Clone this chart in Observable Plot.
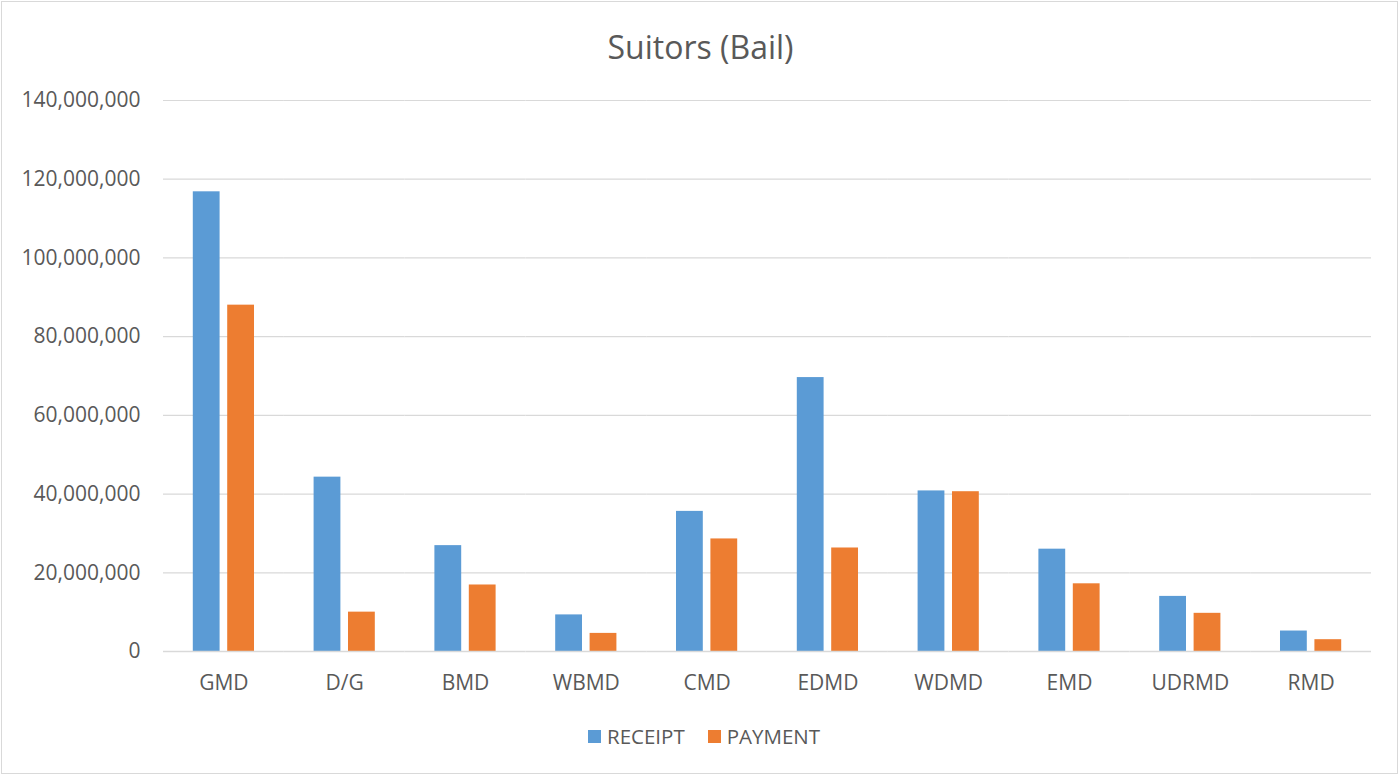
<!DOCTYPE html>
<html>
<head>
<meta charset="utf-8">
<script src="https://cdn.jsdelivr.net/npm/d3@7"></script>
<script src="https://cdn.jsdelivr.net/npm/@observablehq/plot@0.6"></script>
<style>
  html, body { margin: 0; padding: 0; background: #fff; }
  #wrap { position: relative; width: 1399px; height: 775px; font-family: "Open Sans", sans-serif; color: #595959; overflow: hidden; }
  #frame { position: absolute; left: 1px; top: 1px; width: 1397px; height: 773px; box-sizing: border-box; border: 1px solid #d9d9d9; pointer-events: none; }
  #title { position: absolute; left: 0; width: 1401px; top: 25px; text-align: center; font-size: 32px; line-height: 44px; color: #595959; }
  #chart { position: absolute; left: 0; top: 0; }
  #legend { position: absolute; left: 588px; top: 722px; height: 28px; display: flex; align-items: center; font-size: 20.5px; color: #595959; }
  #legend .sw { width: 13px; height: 13px; display: inline-block; margin-right: 6px; }
  #legend .item { display: flex; align-items: center; margin-right: 23px; }
</style>
</head>
<body>
<div id="wrap">
  <div id="title">Suitors (Bail)</div>
  <div id="chart"></div>
  <div id="legend"></div>
  <div id="frame"></div>
</div>
<script>
const categories = ["GMD", "D/G", "BMD", "WBMD", "CMD", "EDMD", "WDMD", "EMD", "UDRMD", "RMD"];
const series = ["RECEIPT", "PAYMENT"];
const receipt = [116.8e6, 44.3e6, 26.9e6, 9.3e6, 35.6e6, 69.6e6, 40.8e6, 26.0e6, 14.0e6, 5.2e6];
const payment = [88.0e6, 10.0e6, 16.9e6, 4.6e6, 28.6e6, 26.3e6, 40.6e6, 17.2e6, 9.7e6, 3.0e6];
const yTicks = [0, 20e6, 40e6, 60e6, 80e6, 100e6, 120e6, 140e6];
const colors = ["#5b9bd5", "#ed7d31"];

const data = [];
categories.forEach((c, i) => {
  data.push({cat: c, series: "RECEIPT", value: receipt[i]});
  data.push({cat: c, series: "PAYMENT", value: payment[i]});
});

const chart = Plot.plot({
  width: 1399,
  height: 700,
  marginTop: 100,
  marginBottom: 49,
  marginLeft: 163,
  marginRight: 28,
  style: {fontFamily: "Open Sans, sans-serif", fontSize: "21px", color: "#595959", background: "transparent", overflow: "visible"},
  fx: {domain: categories, padding: 0, label: null, axis: "bottom", tickSize: 0, tickPadding: 24, round: false},
  x: {domain: series, axis: null, paddingInner: 0.221, paddingOuter: 0.866, round: false},
  y: {domain: [0, 140e6], ticks: yTicks, tickFormat: d3.format(","), label: null, tickSize: 0, tickPadding: 23},
  color: {domain: series, range: colors},
  marks: [
    Plot.ruleY(yTicks.slice(1), {stroke: "#d9d9d9", strokeWidth: 1.2}),
    Plot.barY(data, {fx: "cat", x: "series", y: "value", fill: "series"}),
    Plot.ruleY([0], {stroke: "#d9d9d9", strokeWidth: 1.5})
  ]
});
document.getElementById("chart").appendChild(chart);

const legend = document.getElementById("legend");
series.forEach((s, i) => {
  const item = document.createElement("span");
  item.className = "item";
  const sw = document.createElement("span");
  sw.className = "sw";
  sw.style.background = colors[i];
  item.appendChild(sw);
  item.appendChild(document.createTextNode(s));
  legend.appendChild(item);
});
</script>
</body>
</html>
